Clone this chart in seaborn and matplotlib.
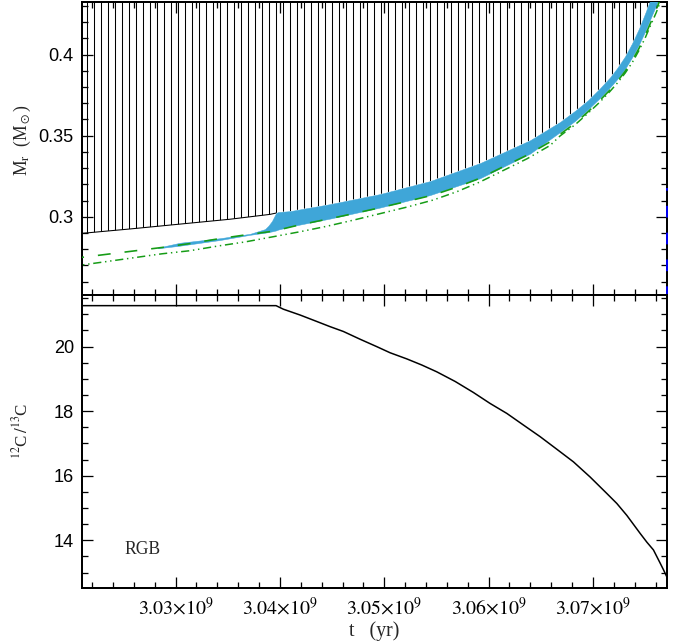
import matplotlib
matplotlib.use("Agg")
import matplotlib.pyplot as plt
from matplotlib.ticker import MultipleLocator, FixedLocator, FixedFormatter
import pandas as pd
import seaborn as sns

# ---- model ages (yr) and structure boundaries (M_sun) ----
# bottom of the convective envelope
t_env = [3.0200e9, 3.02103e9, 3.02563e9, 3.03042e9, 3.03521e9, 3.03905e9, 3.03963e9,
         3.03982e9, 3.04097e9, 3.04480e9, 3.04959e9, 3.05439e9, 3.05918e9, 3.06398e9,
         3.06686e9, 3.06830e9, 3.06954e9, 3.07069e9, 3.07165e9, 3.07232e9, 3.07309e9,
         3.07376e9, 3.07443e9, 3.07501e9, 3.07549e9, 3.07606e9, 3.07664e9]
m_env_bot = [0.2892, 0.2898, 0.2925, 0.2955, 0.2985, 0.3015, 0.3023,
             0.3029, 0.3035, 0.3078, 0.3140, 0.3220, 0.3331, 0.3472,
             0.3585, 0.3654, 0.3719, 0.3793, 0.3860, 0.3916, 0.3990,
             0.4070, 0.4162, 0.4255, 0.4335, 0.4433, 0.4532]
n_envelope_before_bump = 7

# thermohaline mixing zone
t_thm = [3.02831e9, 3.03042e9, 3.03426e9, 3.03713e9, 3.03857e9, 3.03890e9, 3.03924e9,
         3.03963e9, 3.03982e9, 3.04097e9, 3.04480e9, 3.04959e9, 3.05439e9, 3.05918e9,
         3.06398e9, 3.06686e9, 3.06830e9, 3.06954e9, 3.07069e9, 3.07165e9, 3.07232e9,
         3.07309e9, 3.07376e9, 3.07443e9, 3.07501e9, 3.07549e9, 3.07606e9, 3.07664e9]
m_thm_top = [0.2810, 0.2840, 0.2868, 0.2895, 0.2924, 0.2945, 0.2974,
             0.3023, 0.3029, 0.3035, 0.3078, 0.3140, 0.3220, 0.3331,
             0.3472, 0.3585, 0.3654, 0.3719, 0.3793, 0.3860, 0.3916,
             0.3990, 0.4070, 0.4162, 0.4255, 0.4335, 0.4433, 0.4532]
m_thm_bot = [0.2806, 0.2822, 0.2857, 0.2889, 0.2902, 0.2906, 0.2910,
             0.2916, 0.2921, 0.2940, 0.2989, 0.3057, 0.3134, 0.3238,
             0.3390, 0.3523, 0.3592, 0.3663, 0.3734, 0.3799, 0.3848,
             0.3913, 0.3984, 0.4064, 0.4144, 0.4218, 0.4304, 0.4409]

# hydrogen-burning shell markers
t_shell = [3.0200e9, 3.02103e9, 3.02870e9, 3.03138e9, 3.03407e9, 3.03665e9, 3.03934e9,
           3.04193e9, 3.04452e9, 3.04701e9, 3.04931e9, 3.05218e9, 3.05467e9, 3.05697e9,
           3.05918e9, 3.06139e9, 3.06369e9, 3.06590e9, 3.06686e9, 3.06830e9, 3.06954e9,
           3.07069e9, 3.07165e9, 3.07232e9, 3.07309e9, 3.07376e9, 3.07443e9, 3.07501e9,
           3.07549e9, 3.07606e9, 3.07664e9]
m_shell_top = [0.2742, 0.2750, 0.2811, 0.2835, 0.2864, 0.2888, 0.2911,
               0.2951, 0.2985, 0.3019, 0.3052, 0.3095, 0.3134, 0.3183,
               0.3238, 0.3308, 0.3380, 0.3462, 0.3509, 0.3577, 0.3648,
               0.3719, 0.3783, 0.3833, 0.3897, 0.3962, 0.4040, 0.4118,
               0.4190, 0.4275, 0.4372]
m_shell_bot = [0.2695, 0.2703, 0.2772, 0.2791, 0.2820, 0.2845, 0.2877,
               0.2908, 0.2942, 0.2979, 0.3015, 0.3060, 0.3103, 0.3155,
               0.3215, 0.3285, 0.3358, 0.3440, 0.3499, 0.3568, 0.3639,
               0.3709, 0.3774, 0.3823, 0.3886, 0.3950, 0.4027, 0.4103,
               0.4175, 0.4258, 0.4355]

# clump boundary at the end of the sequence
t_edge = [3.0771e9, 3.0771e9]
m_edge = [0.2500, 0.3180]

# surface carbon isotopic ratio
t_ratio = [3.0200e9, 3.03963e9, 3.04033e9, 3.04193e9, 3.04353e9, 3.04480e9, 3.04608e9,
           3.04768e9, 3.04928e9, 3.05056e9, 3.05216e9, 3.05360e9, 3.05503e9, 3.05680e9,
           3.05854e9, 3.06014e9, 3.06175e9, 3.06334e9, 3.06494e9, 3.06654e9, 3.06813e9,
           3.06973e9, 3.07133e9, 3.07229e9, 3.07325e9, 3.07453e9, 3.07517e9, 3.07580e9,
           3.07643e9, 3.07677e9, 3.07709e9]
c12_c13 = [21.27, 21.27, 21.16, 20.98, 20.78, 20.62, 20.47,
           20.23, 20.00, 19.81, 19.62, 19.43, 19.22, 18.92,
           18.58, 18.24, 17.93, 17.57, 17.21, 16.82, 16.43,
           15.96, 15.45, 15.14, 14.77, 14.21, 13.94, 13.70,
           13.30, 13.08, 12.86]

# axes ticks
x_ticks = [3.03e9, 3.04e9, 3.05e9, 3.06e9, 3.07e9]
x_tick_labels = [r"$3.03{\times}10^{9}$", r"$3.04{\times}10^{9}$", r"$3.05{\times}10^{9}$",
                 r"$3.06{\times}10^{9}$", r"$3.07{\times}10^{9}$"]
m_ticks = [0.30, 0.35, 0.40]
m_tick_labels = ["0.3", "0.35", "0.4"]
r_ticks = [14, 16, 18, 20]
r_tick_labels = ["14", "16", "18", "20"]

# ---- styling ----
DPI = 84
sns.set_theme(style="ticks")
plt.rcParams.update({
    "font.family": ["Liberation Serif", "DejaVu Serif"],
    "mathtext.fontset": "stix",
    "axes.linewidth": 1.7,
    "hatch.linewidth": 0.9,
    "hatch.color": "black",
    "lines.scale_dashes": False,
    "xtick.major.size": 9.4, "ytick.major.size": 9.4,
    "xtick.minor.size": 4.9, "ytick.minor.size": 4.9,
    "xtick.major.width": 1.1, "ytick.major.width": 1.1,
    "xtick.minor.width": 1.1, "ytick.minor.width": 1.1,
})

fig = plt.figure(figsize=(691 / DPI, 644 / DPI), dpi=DPI)
L, R = 82 / 691, 667 / 691
ax1 = fig.add_axes([L, 1 - 295 / 644, R - L, 293 / 644])
ax2 = fig.add_axes([L, 1 - 588 / 644, R - L, 293 / 644])

xlim = (3.02103e9, 3.07710e9)
green = "#169c16"
cyan = "#3fa6d8"

# ---- upper panel: Kippenhahn-type diagram ----
ax1.fill_between(t_env, m_env_bot, 0.47, hatch="||", facecolor="none",
                 edgecolor="black", linewidth=0, zorder=1)
ax1.plot(t_env[:n_envelope_before_bump], m_env_bot[:n_envelope_before_bump],
         color="black", lw=0.9, zorder=2)
ax1.fill_between(t_thm, m_thm_bot, m_thm_top, color=cyan, linewidth=0.4,
                 edgecolor=cyan, zorder=3)

shell = pd.DataFrame({"t": t_shell, "top": m_shell_top, "bot": m_shell_bot})
sns.lineplot(data=shell, x="t", y="top", ax=ax1, color=green, lw=1.4,
             errorbar=None, zorder=4)
ax1.lines[-1].set_dashes([11, 12])
sns.lineplot(data=shell, x="t", y="bot", ax=ax1, color=green, lw=1.3,
             errorbar=None, zorder=4)
ax1.lines[-1].set_dashes([7, 3.2, 1.2, 3.2, 1.2, 3.2])

ax1.plot(t_edge, m_edge, color="blue", lw=1.6, dashes=[10, 13],
         clip_on=False, zorder=5)

ax1.set_xlim(*xlim)
ax1.set_ylim(0.2518, 0.4324)
ax1.yaxis.set_major_locator(FixedLocator(m_ticks))
ax1.yaxis.set_major_formatter(FixedFormatter(m_tick_labels))
ax1.yaxis.set_minor_locator(MultipleLocator(0.01))
ax1.set_ylabel(r"M$_\mathrm{r}$  (M$_\odot$)", fontsize=15)
ax1.yaxis.set_label_coords(-0.084, 0.53)

# ---- lower panel: 12C/13C ----
ratio = pd.DataFrame({"t": t_ratio, "r": c12_c13})
sns.lineplot(data=ratio, x="t", y="r", ax=ax2, color="black", lw=1.3,
             errorbar=None)
ax2.set_xlim(*xlim)
ax2.set_ylim(12.52, 21.6)
ax2.yaxis.set_major_locator(FixedLocator(r_ticks))
ax2.yaxis.set_major_formatter(FixedFormatter(r_tick_labels))
ax2.yaxis.set_minor_locator(MultipleLocator(0.5))
ax2.set_ylabel(r"$^{12}$C$\,/^{13}$C", fontsize=14.5)
ax2.yaxis.set_label_coords(-0.086, 0.536)
ax2.text(0.0718, 0.116, "RGB", transform=ax2.transAxes, fontsize=15,
         ha="left", va="baseline")

for ax in (ax1, ax2):
    ax.xaxis.set_major_locator(FixedLocator(x_ticks))
    ax.xaxis.set_minor_locator(MultipleLocator(2e6))
    ax.tick_params(which="both", direction="in", top=True, right=True,
                   colors="black")
    ax.tick_params(axis="y", labelsize=15.5, pad=7)
    for lab in ax.get_yticklabels():
        lab.set_family(["Liberation Sans", "DejaVu Sans"])
    for s in ax.spines.values():
        s.set_color("black")

ax1.tick_params(axis="x", labelbottom=False)
ax1.set_xlabel("")
ax2.xaxis.set_major_formatter(FixedFormatter(x_tick_labels))
ax2.tick_params(axis="x", labelsize=17, pad=8)
ax2.set_xlabel("t   (yr)", fontsize=17)
ax2.xaxis.set_label_coords(0.5, -0.113)

fig.savefig("out.png", dpi=DPI)
